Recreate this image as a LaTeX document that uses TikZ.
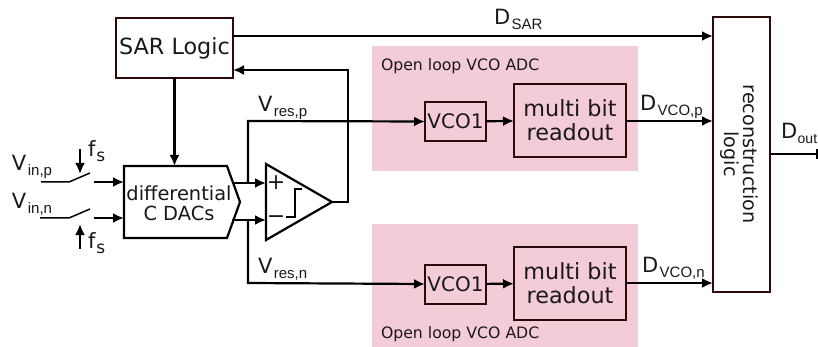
\documentclass[tikz,border=0pt]{standalone}
\usepackage{fontspec}
\setmainfont{DejaVu Sans}
\newfontfamily\subfont{Liberation Sans}
\usetikzlibrary{arrows.meta,calc,shapes.geometric}
\newcommand{\lab}[2]{#1\kern1.5pt\raisebox{-5pt}{\subfont\fontsize{15}{15}\selectfont #2}}
\definecolor{pink1}{HTML}{F4CCD8}
\definecolor{boxdark}{HTML}{2A0A0A}
\tikzset{
 every node/.style={inner sep=0pt,outer sep=0pt,font=\fontsize{19.4}{20}\selectfont,text=black!90},
 wire/.style={line width=2.2pt,draw=black},
 arw/.style={wire,-{Latex[length=11pt,width=10pt]}},
 darkbox/.style={draw=boxdark,line width=2pt,fill=none},
 pinkbox/.style={fill=pink1,draw=none},
 lbl/.style={font=\fontsize{21}{22}\selectfont},
 bigtext/.style={font=\fontsize{22.3}{24}\selectfont},
}
\begin{document}
\begin{tikzpicture}[x=1pt,y=-1pt]
\useasboundingbox (0,0) rectangle (818,347);
% pink regions
\node[pinkbox,minimum width=266pt,minimum height=125pt] (pa) at (505,108.5) {};
\node[pinkbox,minimum width=266pt,minimum height=123pt] (pb) at (505,285.5) {};
\node[anchor=west,font=\fontsize{15.7}{16}\selectfont] (ta) at (381,66) {Open loop VCO ADC};
\node[anchor=west,font=\fontsize{15.7}{16}\selectfont] (tb) at (381,334) {Open loop VCO ADC};
% blocks
\node[darkbox,minimum width=117pt,minimum height=60pt,bigtext] (sar) at (174.5,48) {SAR Logic};
\node[darkbox,minimum width=57pt,minimum height=275pt] (rec) at (741.5,154.5) {};
\node[rotate=-90,align=center,font=\fontsize{19.2}{19}\selectfont] (rectxt) at (739,154) {reconstruction\\logic};
\node[darkbox,minimum width=61pt,minimum height=39pt,font=\fontsize{20}{20}\selectfont] (v1) at (455.5,121.5) {VCO1};
\node[darkbox,minimum width=112pt,minimum height=73pt,align=center,bigtext] (m1) at (570,120.5) {multi bit\\readout};
\node[darkbox,minimum width=61pt,minimum height=39pt,font=\fontsize{20}{20}\selectfont] (v2) at (455.5,284) {VCO1};
\node[darkbox,minimum width=112pt,minimum height=73pt,align=center,bigtext] (m2) at (570,283.5) {multi bit\\readout};
% DAC
\coordinate (dtl) at (124,166); \coordinate (dtr) at (227,166); \coordinate (dp) at (240,202);
\coordinate (dbr) at (227,238); \coordinate (dbl) at (124,238);
\draw[wire] (dtl) -- (dtr) -- (dp) -- (dbr) -- (dbl) -- cycle;
\node[align=center] (dac) at (179,203) {differential\\C DACs};
% comparator
\coordinate (ct) at (266,164); \coordinate (cb) at (266,240); \coordinate (co) at (332,202);
\draw[wire] (ct) -- (co) -- (cb) -- cycle;
\node (plus) at (276,183) {\fontsize{22}{22}\selectfont +};
\node (minus) at (276,220) {\fontsize{22}{22}\selectfont −};
\coordinate (s1) at (286,217); \coordinate (s2) at (295,217); \coordinate (s3) at (295,189); \coordinate (s4) at (302,189);
\draw[wire] (s1) -- (s2) -- (s3) -- (s4);
% wires
\coordinate (dacp) at (232,183); \coordinate (dacn) at (232,220);
\coordinate (cip) at (266,183); \coordinate (cin) at (266,220);
\draw[arw] (dacp) -- (cip);
\draw[arw] (dacn) -- (cin);
\coordinate (vpup) at (248,121); \coordinate (vpj) at (248,183);
\coordinate (vnd) at (248,283); \coordinate (vnj) at (248,220);
\draw[arw] (vpj) -- (vpup) -- (v1.west);
\draw[arw] (vnj) -- (vnd) -- (v2.west);
\draw[arw] (v1) -- (m1);
\draw[arw] (v2) -- (m2);
\coordinate (fb1) at (348,202); \coordinate (fb2) at (348,70);
\draw[arw] (co) -- (fb1) -- (fb2) -- (sar.east |- fb2);
\draw[arw] (sar.south) -- (sar.south |- dtl);
\coordinate (rs) at (rec.west |- 0,36);
\draw[arw] (sar.east |- rs) -- (rs);
\draw[arw] (m1.east |- 0,121) -- (rec.west |- 0,121);
\draw[arw] (m2.east |- 0,283) -- (rec.west |- 0,283);
\coordinate (dq) at (818,154);
\coordinate (dqb) at (817,154);
\draw[line width=1.6pt] (rec.east |- dq) -- (dq);
\draw[line width=1.6pt] (dqb) ++(0,-5) -- ++(0,10);
% switches
\coordinate (s1a) at (41,182); \coordinate (s1b) at (69,182); \coordinate (s1c) at (90,173);
\coordinate (s2a) at (40,218); \coordinate (s2b) at (69,218); \coordinate (s2c) at (90,209);
\draw[line width=1.5pt] (s1a) -- (s1b) -- (s1c);
\draw[line width=1.5pt] (s2a) -- (s2b) -- (s2c);
\coordinate (i1) at (94,182); \coordinate (i2) at (94,218);
\draw[arw] (i1) -- (dtl |- i1);
\draw[arw] (i2) -- (dtl |- i2);
\coordinate (f1a) at (80,149); \coordinate (f1b) at (80,174);
\coordinate (f2a) at (80,249); \coordinate (f2b) at (80,224);
\draw[arw] (f1a) -- (f1b);
\draw[arw] (f2a) -- (f2b);
% labels
\node[lbl,anchor=base west] (lvp) at (12,171) {\lab{V}{in,p}};
\node[lbl,anchor=base west] (lvn) at (12,209) {\lab{V}{in,n}};
\node[lbl,anchor=base west] (lf1) at (88,157) {f\kern1pt\raisebox{-5pt}{\fontsize{17}{17}\selectfont s}};
\node[lbl,anchor=base west] (lf2) at (88,248) {f\kern1pt\raisebox{-5pt}{\fontsize{17}{17}\selectfont s}};
\node[lbl,anchor=base west] (lrp) at (258,112) {\lab{V}{res,p}};
\node[lbl,anchor=base west] (lrn) at (258,273) {\lab{V}{res,n}};
\node[lbl,anchor=base west] (lds) at (494,25) {\lab{D}{SAR}};
\node[lbl,anchor=base west] (ldp) at (640,111) {\lab{D}{VCO,p}};
\node[lbl,anchor=base west] (ldn) at (642,272) {\lab{D}{VCO,n}};
\node[lbl,anchor=base west] (ldo) at (781,139) {D\kern0.5pt\raisebox{-5pt}{\subfont\fontsize{14}{14}\selectfont out}};
\end{tikzpicture}
\end{document}
